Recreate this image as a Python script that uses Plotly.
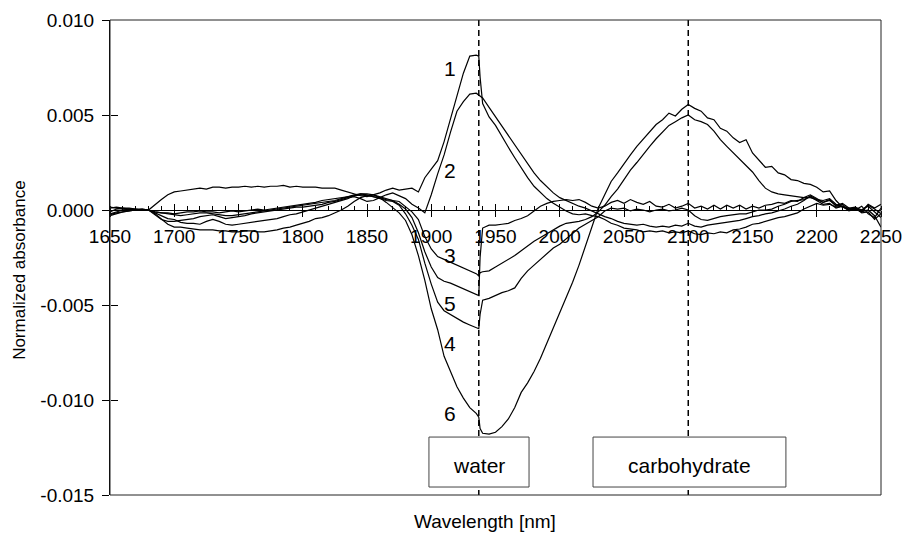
import plotly.graph_objects as go
import numpy as np

# Wavelength grid (nm); two extra samples resolve the sharp step at the water band
wavelength = list(range(1650, 1940, 5)) + [1937, 1938] + list(range(1940, 2255, 5))

# Normalized absorbance spectra, in units of 1e-3
curve1 = [
    -0.10, 0.05, 0.10, 0.10, 0.05, 0.05, 0.00, 0.30, 0.55, 0.80,      # 1650-1695
    0.95, 1.00, 1.05, 1.10, 1.15, 1.10, 1.20, 1.20, 1.15, 1.20,       # 1700-1745
    1.20, 1.25, 1.20, 1.25, 1.20, 1.25, 1.25, 1.30, 1.20, 1.25,       # 1750-1795
    1.20, 1.20, 1.20, 1.15, 1.15, 1.15, 1.05, 0.95, 0.85, 0.75,       # 1800-1845
    0.70, 0.80, 0.90, 1.05, 1.15, 1.05, 1.10, 1.15, 0.95, 1.70,       # 1850-1895
    2.15, 2.60, 3.60, 4.80, 6.10, 7.20, 8.10, 8.15, 8.10, 7.00,       # 1900-1938
    5.60, 4.90, 4.45, 3.85, 3.30, 2.75, 2.20, 1.70, 1.25, 0.90,       # 1940-1985
    0.60, 0.35, 0.15, -0.05, -0.20, -0.25, -0.20, -0.30, -0.35, -0.50,
    -0.70, -0.80, -0.95, -1.00, -1.05, -1.15, -1.10, -1.15, -1.10, -1.20,
    -1.15, -1.20, -1.10, -1.25, -1.30, -1.20, -1.25, -1.15, -1.20, -1.05,
    -1.00, -0.90, -0.75, -0.70, -0.60, -0.50, -0.40, -0.35, -0.25, -0.15,
    0.05, 0.20, 0.35, 0.25, 0.30, 0.15, 0.20, 0.00, 0.05, -0.10,
    0.00, -0.30, -0.90,
]
curve2 = [
    0.10, 0.15, 0.10, 0.05, 0.05, 0.00, 0.00, -0.25, -0.50, -0.60,
    -0.60, -0.55, -0.50, -0.45, -0.35, -0.30, -0.25, -0.35, -0.45, -0.40,
    -0.35, -0.30, -0.20, -0.15, -0.10, -0.05, 0.00, 0.05, 0.10, 0.15,
    0.15, 0.20, 0.25, 0.30, 0.40, 0.45, 0.55, 0.65, 0.70, 0.60,
    0.45, 0.50, 0.65, 0.80, 0.90, 0.75, 0.60, 0.30, 0.10, -0.15,
    0.80, 1.90, 2.90, 4.10, 5.20, 5.70, 6.10, 6.15, 6.05, 6.00,
    5.90, 5.40, 4.90, 4.40, 3.90, 3.40, 2.90, 2.40, 1.95, 1.55,
    1.20, 0.90, 0.65, 0.50, 0.35, 0.20, 0.10, -0.05, -0.20, -0.35,
    -0.45, -0.60, -0.70, -0.75, -0.80, -0.75, -0.85, -0.90, -0.85, -0.90,
    -0.80, -0.85, -0.70, -0.85, -0.90, -0.80, -0.75, -0.70, -0.65, -0.60,
    -0.55, -0.45, -0.35, -0.30, -0.20, -0.15, -0.05, 0.05, 0.20, 0.30,
    0.50, 0.75, 0.55, 0.40, 0.50, 0.25, 0.35, 0.10, 0.15, 0.00,
    0.25, 0.05, -0.20,
]
curve3 = [
    -0.20, -0.10, 0.00, 0.05, 0.00, 0.00, 0.00, -0.10, -0.15, -0.20,
    -0.25, -0.30, -0.25, -0.20, -0.15, -0.15, -0.20, -0.25, -0.30, -0.30,
    -0.25, -0.20, -0.15, -0.10, -0.05, 0.00, 0.05, 0.10, 0.15, 0.20,
    0.25, 0.30, 0.35, 0.40, 0.45, 0.50, 0.60, 0.70, 0.80, 0.85,
    0.85, 0.80, 0.70, 0.60, 0.50, 0.45, 0.15, -0.10, -0.50, -1.40,
    -2.05, -2.45, -2.60, -2.75, -2.90, -3.05, -3.20, -3.35, -3.47, -3.30,
    -3.25, -3.20, -3.00, -2.80, -2.60, -2.40, -2.15, -1.90, -1.65, -1.45,
    -1.25, -1.05, -0.85, -0.70, -0.65, -0.60, -0.50, -0.35, -0.10, 0.25,
    0.70, 1.10, 1.60, 2.10, 2.50, 2.95, 3.35, 3.75, 4.10, 4.45,
    4.65, 4.85, 5.00, 4.75, 4.65, 4.50, 4.15, 3.70, 3.35, 3.00,
    2.70, 2.35, 2.00, 1.55, 1.15, 0.95, 0.85, 0.80, 0.75, 0.70,
    0.65, 0.65, 0.55, 0.50, 0.60, 0.30, 0.15, 0.05, 0.10, -0.15,
    -0.10, -0.50, -0.20,
]
curve4 = [
    0.15, 0.10, 0.05, 0.05, 0.00, 0.05, 0.00, -0.15, -0.30, -0.45,
    -0.50, -0.65, -0.70, -0.70, -0.75, -0.60, -0.50, -0.60, -0.75, -0.80,
    -0.75, -0.70, -0.65, -0.60, -0.55, -0.50, -0.45, -0.35, -0.25, -0.20,
    -0.10, 0.00, 0.10, 0.20, 0.30, 0.40, 0.50, 0.60, 0.75, 0.85,
    0.80, 0.70, 0.60, 0.50, 0.45, 0.25, -0.20, -0.80, -1.55, -2.80,
    -3.90, -4.85, -5.30, -5.50, -5.70, -5.90, -6.05, -6.20, -6.25, -5.50,
    -4.75, -4.65, -4.50, -4.35, -4.25, -4.10, -3.60, -3.20, -2.90, -2.60,
    -2.30, -2.00, -1.80, -1.50, -1.20, -0.95, -0.75, -0.55, -0.35, -0.05,
    0.10, 0.05, 0.10, -0.05, 0.05, 0.00, -0.10, 0.00, 0.05, -0.05,
    0.00, 0.10, 0.00, -0.30, -0.50, -0.55, -0.45, -0.35, -0.30, -0.25,
    -0.20, -0.20, -0.10, 0.00, 0.00, 0.05, 0.20, 0.30, 0.45, 0.50,
    0.55, 0.70, 0.50, 0.30, 0.35, 0.10, 0.20, -0.05, 0.05, 0.00,
    0.20, -0.10, -0.40,
]
curve5 = [
    -0.30, -0.20, -0.10, -0.05, 0.00, 0.00, 0.00, -0.10, -0.15, -0.15,
    -0.20, -0.15, -0.10, -0.10, -0.05, -0.10, -0.10, -0.15, -0.10, -0.05,
    -0.10, -0.05, 0.00, 0.05, 0.00, 0.05, 0.10, 0.15, 0.20, 0.25,
    0.30, 0.35, 0.40, 0.50, 0.55, 0.60, 0.65, 0.70, 0.75, 0.80,
    0.75, 0.70, 0.65, 0.55, 0.50, 0.30, 0.05, -0.40, -1.20, -2.20,
    -3.00, -3.55, -3.75, -3.85, -4.00, -4.15, -4.30, -4.45, -4.50, -2.50,
    -0.95, -0.80, -0.80, -0.75, -0.70, -0.55, -0.45, -0.30, -0.05, 0.20,
    0.35, 0.45, 0.50, 0.55, 0.50, 0.55, 0.40, 0.20, 0.10, 0.20,
    0.40, 0.50, 0.35, 0.55, 0.40, 0.30, 0.45, 0.20, 0.15, 0.30,
    0.10, 0.20, 0.35, 0.10, 0.20, 0.05, 0.25, 0.05, 0.25, 0.10,
    0.25, 0.05, 0.20, 0.10, 0.25, 0.30, 0.40, 0.35, 0.50, 0.45,
    0.65, 0.80, 0.60, 0.40, 0.55, 0.20, 0.30, 0.00, 0.10, -0.10,
    0.30, 0.10, 0.30,
]
curve6 = [
    -0.25, -0.15, -0.10, -0.05, 0.00, 0.00, 0.00, -0.20, -0.50, -0.75,
    -0.90, -0.90, -0.95, -1.00, -1.05, -1.05, -1.05, -1.10, -1.10, -1.15,
    -1.15, -1.10, -1.10, -1.15, -1.15, -1.10, -1.05, -0.95, -0.90, -0.80,
    -0.70, -0.60, -0.45, -0.40, -0.30, -0.15, 0.00, 0.20, 0.45, 0.65,
    0.75, 0.80, 0.65, 0.40, 0.10, -0.15, -0.55, -1.30, -2.40, -3.70,
    -5.20, -6.30, -7.70, -8.50, -9.30, -9.90, -10.40, -10.70, -10.90, -11.50,
    -11.75, -11.80, -11.70, -11.40, -11.00, -10.40, -9.60, -9.10, -8.50, -7.80,
    -7.00, -6.20, -5.40, -4.60, -3.80, -2.90, -1.90, -0.90, 0.10, 0.80,
    1.50, 1.95, 2.45, 2.90, 3.35, 3.75, 4.15, 4.50, 4.75, 5.10,
    4.95, 5.30, 5.55, 5.35, 5.20, 4.85, 4.75, 4.30, 4.15, 3.80,
    3.55, 3.70, 3.00, 2.60, 2.25, 2.30, 1.95, 1.85, 1.60, 1.55,
    1.40, 1.35, 1.20, 0.95, 1.00, 0.50, 0.15, 0.10, 0.00, 0.20,
    -0.20, -0.40, 0.10,
]
spectra = [curve1, curve2, curve3, curve4, curve5, curve6]

# Curve number labels
label_text = ["1", "2", "3", "5", "4", "6"]
label_x = [1914.6, 1914.6, 1914.6, 1914.6, 1914.6, 1914.6]
label_y = [0.00747, 0.0021, -0.0024, -0.0049, -0.0070, -0.0107]

# Reference bands
band_names = ["water", "carbohydrate"]
band_nm = [1937, 2100]
band_box_x = [(1898.2, 1976.1), (2025.9, 2176.0)]

x_ticks = list(range(1650, 2251, 50))
y_ticks = [0.010, 0.005, 0.0, -0.005, -0.010, -0.015]
y_ticktext = ["0.010", "0.005", "0.000", "-0.005", "-0.010", "-0.015"]

Y_MIN, Y_MAX = -0.015, 0.010
FONT = "Liberation Sans, Arial, Helvetica, sans-serif"

fig = go.Figure()

for vals in spectra:
    fig.add_trace(go.Scatter(
        x=wavelength, y=np.array(vals) * 1e-3, mode="lines",
        line=dict(color="black", width=1.2), hoverinfo="skip",
    ))

# Dashed markers at the water and carbohydrate bands
dash_x, dash_y = [], []
for nm in band_nm:
    dash_x += [nm, nm, None]
    dash_y += [Y_MAX, Y_MIN, None]
fig.add_trace(go.Scatter(
    x=dash_x, y=dash_y, mode="lines", xaxis="x2", yaxis="y2",
    line=dict(color="black", width=1.5, dash="6px,4px"), hoverinfo="skip",
))

shapes = [dict(type="rect", xref="paper", yref="paper", x0=0, x1=1, y0=0, y1=1,
               line=dict(color="#222", width=1), layer="above")]
annotations = []
for name, nm, (bx0, bx1) in zip(band_names, band_nm, band_box_x):
    shapes.append(dict(type="rect", xref="x", yref="y", x0=bx0, x1=bx1,
                       y0=-0.01458, y1=-0.01195, fillcolor="white",
                       line=dict(color="#444", width=1), layer="above"))
    annotations.append(dict(x=(bx0 + bx1) / 2, y=-0.01347, xref="x", yref="y",
                            text=name, showarrow=False,
                            font=dict(family=FONT, size=21, color="black")))

for t, lx, ly in zip(label_text, label_x, label_y):
    annotations.append(dict(x=lx, y=ly, xref="x", yref="y", text=t, showarrow=False,
                            font=dict(family=FONT, size=21, color="black")))

annotations.append(dict(x=-0.1167, y=0.474, xref="paper", yref="paper",
                        xanchor="center", yanchor="middle",
                        text="Normalized absorbance", textangle=-90, showarrow=False,
                        font=dict(family=FONT, size=17, color="black")))
annotations.append(dict(x=0.4864, y=-0.0568, xref="paper", yref="paper",
                        xanchor="center", yanchor="middle",
                        text="Wavelength [nm]", showarrow=False,
                        font=dict(family=FONT, size=19, color="black")))

zero_pos = (0 - Y_MIN) / (Y_MAX - Y_MIN)

fig.update_layout(
    width=902, height=537,
    margin=dict(l=110, r=21, t=20, b=42, autoexpand=False),
    paper_bgcolor="white", plot_bgcolor="white",
    showlegend=False,
    font=dict(family=FONT, size=19, color="black"),
    xaxis=dict(
        range=[1650, 2250], anchor="free", position=zero_pos, automargin=False,
        showline=True, linecolor="black", linewidth=1,
        tickmode="array", tickvals=x_ticks, ticks="outside", ticklen=6,
        tickcolor="black", tickwidth=1, tickfont=dict(family=FONT, size=19),
        ticklabeloverflow="allow", ticklabelstandoff=3,
        showgrid=False, zeroline=False,
        minor=dict(tick0=1650, dtick=10, ticks="inside", ticklen=4,
                   tickcolor="black", tickwidth=1, showgrid=False),
    ),
    xaxis2=dict(
        range=[1650, 2250], overlaying="x", anchor="free", position=zero_pos,
        automargin=False,
        tickmode="array", tickvals=x_ticks, ticks="inside", ticklen=6,
        tickcolor="black", showticklabels=False, showline=False,
        showgrid=False, zeroline=False,
    ),
    yaxis=dict(
        range=[Y_MIN, Y_MAX], showline=True, linecolor="black", linewidth=1,
        automargin=False,
        tickmode="array", tickvals=y_ticks, ticktext=y_ticktext,
        ticks="outside", ticklen=7, tickcolor="black",
        tickfont=dict(family=FONT, size=19), ticklabelstandoff=4,
        ticklabeloverflow="allow",
        showgrid=False, zeroline=False,
    ),
    yaxis2=dict(
        range=[Y_MIN, Y_MAX], overlaying="y", anchor="free", position=0, side="left",
        automargin=False,
        tickmode="array", tickvals=y_ticks, ticks="inside", ticklen=7,
        tickcolor="black", showticklabels=False, showline=False,
        showgrid=False, zeroline=False,
    ),
    shapes=shapes,
    annotations=annotations,
)

fig.write_html("out.html")
